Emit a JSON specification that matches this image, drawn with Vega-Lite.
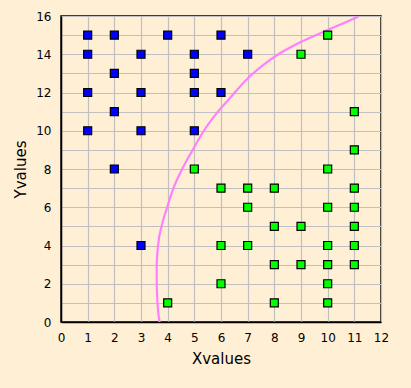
{
  "$schema": "https://vega.github.io/schema/vega-lite/v6.json",
  "width": 320,
  "height": 306,
  "autosize": "none",
  "padding": {"left": 61, "top": 16, "right": 30, "bottom": 66},
  "background": "#FFEFD5",
  "config": {
    "view": {"stroke": "#000000", "strokeWidth": 1.5, "fill": "#FFEFD5"},
    "axis": {
      "gridColor": "#C0C0C0",
      "gridWidth": 1.2,
      "gridOpacity": 1,
      "domainColor": "#000000",
      "domainWidth": 1.5,
      "ticks": false,
      "labelFlush": false,
      "labelFont": "DejaVu Sans",
      "labelFontSize": 12,
      "labelColor": "#000000",
      "titleFont": "DejaVu Sans",
      "titleFontSize": 15,
      "titleFontWeight": "normal",
      "titleColor": "#000000"
    }
  },
  "datasets": {
    "curve": [
      {"o": 0, "x": 3.70, "y": 0.0},
      {"o": 1, "x": 3.62, "y": 1.0},
      {"o": 2, "x": 3.59, "y": 2.0},
      {"o": 3, "x": 3.59, "y": 3.0},
      {"o": 4, "x": 3.64, "y": 4.0},
      {"o": 5, "x": 3.77, "y": 5.0},
      {"o": 6, "x": 3.96, "y": 5.9},
      {"o": 7, "x": 4.19, "y": 6.9},
      {"o": 8, "x": 4.53, "y": 7.96},
      {"o": 9, "x": 4.94, "y": 9.0},
      {"o": 10, "x": 5.34, "y": 9.96},
      {"o": 11, "x": 5.84, "y": 10.92},
      {"o": 12, "x": 6.30, "y": 11.65},
      {"o": 13, "x": 6.99, "y": 12.72},
      {"o": 14, "x": 7.59, "y": 13.44},
      {"o": 15, "x": 8.21, "y": 14.05},
      {"o": 16, "x": 8.97, "y": 14.63},
      {"o": 17, "x": 9.96, "y": 15.24},
      {"o": 18, "x": 10.59, "y": 15.62},
      {"o": 19, "x": 11.15, "y": 15.97}
    ],
    "points": [
      {"x": 1, "y": 15, "c": "blue"}, {"x": 2, "y": 15, "c": "blue"}, {"x": 4, "y": 15, "c": "blue"}, {"x": 6, "y": 15, "c": "blue"},
      {"x": 1, "y": 14, "c": "blue"}, {"x": 3, "y": 14, "c": "blue"}, {"x": 5, "y": 14, "c": "blue"}, {"x": 7, "y": 14, "c": "blue"},
      {"x": 2, "y": 13, "c": "blue"}, {"x": 5, "y": 13, "c": "blue"},
      {"x": 1, "y": 12, "c": "blue"}, {"x": 3, "y": 12, "c": "blue"}, {"x": 5, "y": 12, "c": "blue"}, {"x": 6, "y": 12, "c": "blue"},
      {"x": 2, "y": 11, "c": "blue"},
      {"x": 1, "y": 10, "c": "blue"}, {"x": 3, "y": 10, "c": "blue"}, {"x": 5, "y": 10, "c": "blue"},
      {"x": 2, "y": 8, "c": "blue"}, {"x": 3, "y": 4, "c": "blue"},
      {"x": 10, "y": 15, "c": "green"}, {"x": 9, "y": 14, "c": "green"}, {"x": 11, "y": 11, "c": "green"}, {"x": 11, "y": 9, "c": "green"},
      {"x": 5, "y": 8, "c": "green"}, {"x": 10, "y": 8, "c": "green"},
      {"x": 6, "y": 7, "c": "green"}, {"x": 7, "y": 7, "c": "green"}, {"x": 8, "y": 7, "c": "green"}, {"x": 11, "y": 7, "c": "green"},
      {"x": 7, "y": 6, "c": "green"}, {"x": 10, "y": 6, "c": "green"}, {"x": 11, "y": 6, "c": "green"},
      {"x": 8, "y": 5, "c": "green"}, {"x": 9, "y": 5, "c": "green"}, {"x": 11, "y": 5, "c": "green"},
      {"x": 6, "y": 4, "c": "green"}, {"x": 7, "y": 4, "c": "green"}, {"x": 10, "y": 4, "c": "green"}, {"x": 11, "y": 4, "c": "green"},
      {"x": 8, "y": 3, "c": "green"}, {"x": 9, "y": 3, "c": "green"}, {"x": 10, "y": 3, "c": "green"}, {"x": 11, "y": 3, "c": "green"},
      {"x": 6, "y": 2, "c": "green"}, {"x": 10, "y": 2, "c": "green"},
      {"x": 4, "y": 1, "c": "green"}, {"x": 8, "y": 1, "c": "green"}, {"x": 10, "y": 1, "c": "green"}
    ]
  },
  "encoding": {
    "x": {
      "field": "x", "type": "quantitative",
      "scale": {"domain": [0, 12], "nice": false, "zero": false},
      "axis": {"title": "Xvalues", "values": [0,1,2,3,4,5,6,7,8,9,10,11,12], "labelPadding": 10, "titlePadding": 8}
    },
    "y": {
      "field": "y", "type": "quantitative",
      "scale": {"domain": [0, 16], "nice": false, "zero": false},
      "axis": {"title": "Yvalues", "values": [0,1,2,3,4,5,6,7,8,9,10,11,12,13,14,15,16], "labelExpr": "datum.value % 2 == 0 ? datum.label : ''", "labelPadding": 10, "titlePadding": 7}
    }
  },
  "layer": [
    {
      "data": {"name": "curve"},
      "mark": {"type": "line", "color": "#FF80FF", "strokeWidth": 2.2, "interpolate": "monotone", "clip": true},
      "encoding": {"order": {"field": "o", "type": "quantitative"}}
    },
    {
      "data": {"name": "points"},
      "mark": {"type": "point", "shape": "square", "filled": true, "size": 64, "stroke": "#000000", "strokeWidth": 1.2, "opacity": 1},
      "encoding": {
        "color": {"field": "c", "type": "nominal", "scale": {"domain": ["blue", "green"], "range": ["#0000FF", "#00FF00"]}, "legend": null}
      }
    }
  ]
}
